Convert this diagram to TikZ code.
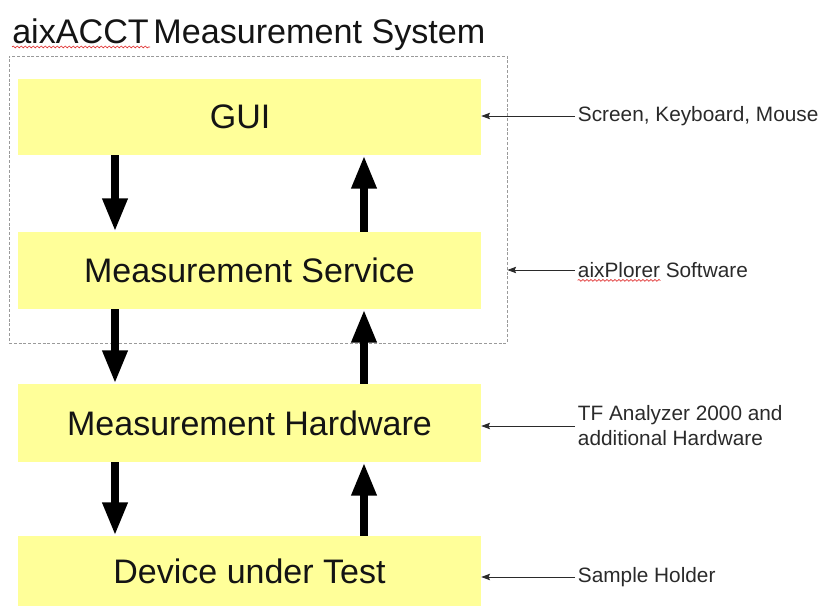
\documentclass[tikz,border=0pt]{standalone}
\usepackage{fontspec}
\setmainfont{Liberation Sans}
\usetikzlibrary{arrows.meta,decorations.pathmorphing}
\definecolor{boxyellow}{HTML}{FFFF99}
\definecolor{txtcol}{HTML}{141414}
\definecolor{labcol}{HTML}{2A2A2A}
\definecolor{framegray}{HTML}{9A9A9A}
\definecolor{squigred}{HTML}{E03030}
\begin{document}
\begin{tikzpicture}[x=0.75pt,y=-0.75pt,
  layerbox/.style={fill=boxyellow, draw=none, inner sep=0pt, minimum width=347.25pt,
    text=txtcol, font=\fontsize{25.5}{30}\selectfont},
  framebox/.style={draw=framegray, dash pattern=on 2.2pt off 1.4pt, line width=0.6pt,
    inner sep=0pt, minimum width=373.5pt, minimum height=215.25pt},
  bigarrow/.style={line width=6.2pt, -{Triangle[length=25pt, width=17.5pt]}},
  labnode/.style={anchor=west, inner sep=2pt, text=labcol, align=left,
    font=\fontsize{15.6}{18.8}\selectfont},
  thinarrow/.style={draw=labcol, line width=0.6pt, -{Stealth[length=6.5pt, width=4.8pt, inset=1pt]}},
  squig/.style={draw=squigred, line width=0.5pt, decorate,
    decoration={snake, segment length=3pt, amplitude=0.7pt}}
]
\useasboundingbox (0,0) rectangle (824,606);

% title
\node[anchor=base west, inner sep=0pt, text=txtcol, font=\fontsize{25.6}{30}\selectfont]
  (title) at (12,43.5) {aixACCT\hspace{3.5pt}Measurement System};
\draw[squig] ([yshift=-2.6pt]title.base west) -- ++(138,0);

% dashed frame
\node[framebox] (frame) at (258,199.5) {};

% layers
\node[layerbox, minimum height=57pt] (gui) at (249.5,117) {\hspace*{-14pt}GUI};
\node[layerbox, minimum height=57.75pt] (ms) at (249.5,270.5) {Measurement Service};
\node[layerbox, minimum height=58.5pt] (mh) at (249.5,423) {Measurement Hardware};
\node[layerbox, minimum height=52.5pt] (dut) at (249.5,571) {Device under Test};

% arrow columns
\coordinate (dx) at (115,0);
\coordinate (ux) at (364,0);

\draw[bigarrow] (gui.south -| dx) -- (ms.north -| dx);
\draw[bigarrow] (ms.south -| dx) -- (mh.north -| dx);
\draw[bigarrow] (mh.south -| dx) -- (dut.north -| dx);
\draw[bigarrow] (ms.north -| ux) -- (gui.south -| ux);
\draw[bigarrow] (mh.north -| ux) -- (ms.south -| ux);
\draw[bigarrow] (dut.north -| ux) -- (mh.south -| ux);

% right labels
\node[labnode] (l1) at (575,116) {Screen, Keyboard, Mouse};
\node[labnode] (l2) at (575,270) {aixPlorer Software};
\node[labnode] (l3) at (575,426) {TF Analyzer 2000 and\\additional Hardware};
\node[labnode] (l4) at (575,577) {Sample Holder};

\draw[thinarrow] (l1.west) -- (l1.west -| gui.east);
\draw[thinarrow] (l2.west) -- (l2.west -| frame.east);
\draw[thinarrow] (l3.west) -- (l3.west -| mh.east);
\draw[thinarrow] (l4.west) -- (l4.west -| dut.east);

\draw[squig] ([xshift=2pt, yshift=-2.2pt]l2.base west) -- ++(83,0);
\end{tikzpicture}
\end{document}
